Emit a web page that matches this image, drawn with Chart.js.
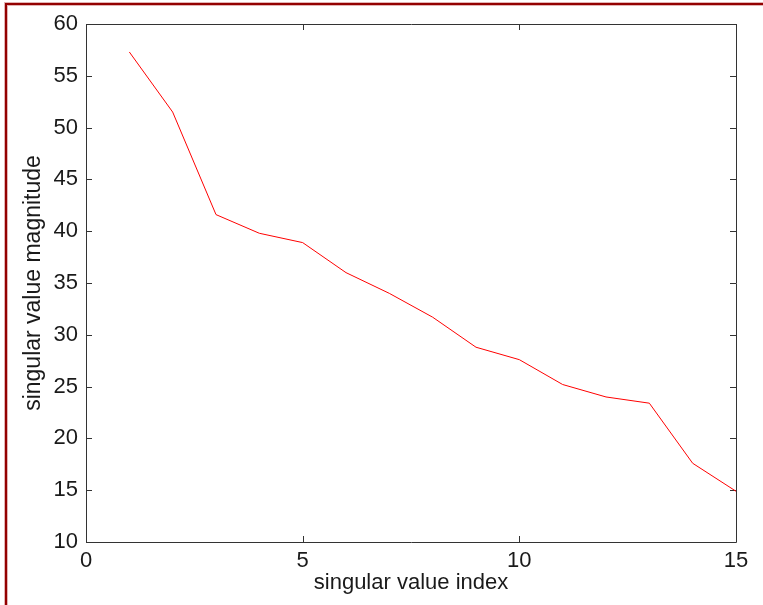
<!DOCTYPE html>
<html lang="en">
<head>
    <meta charset="UTF-8">
    <title>Singular values</title>
    <script src="https://cdn.jsdelivr.net/npm/chart.js"></script>
    <style>
        body {
            margin: 0;
            background: #fff;
        }
        #wrap {
            position: relative;
            width: 763px;
            height: 605px;
            overflow: hidden;
        }
        #frame {
            position: absolute;
            left: 5px;
            top: 3px;
            width: 800px;
            height: 700px;
            border-top: 2px solid #930000;
            border-left: 2px solid #930000;
            box-shadow: inset 1px 1px 0 #e2b4b4, -1px -1px 0 #e2b4b4;
            pointer-events: none;
        }
    </style>
</head>
<body>
    <div id="wrap">
        <canvas id="svChart" width="763" height="605"></canvas>
        <div id="frame"></div>
    </div>

    <script>
        // singular value index and magnitude
        const indices = [1, 2, 3, 4, 5, 6, 7, 8, 9, 10, 11, 12, 13, 14, 15];
        const magnitudes = [57.3, 51.5, 41.6, 39.8, 38.9, 36.0, 34.0, 31.7, 28.8, 27.6, 25.2, 24.0, 23.4, 17.6, 14.9];

        const xRange = [0, 15];
        const yRange = [10, 60];
        const xStep = 5;
        const yStep = 5;

        const fontFamily = '"Liberation Sans", Arial, sans-serif';
        const textColor = '#1a1a1a';

        // matlab style box with inward ticks on all four sides
        const boxPlugin = {
            id: 'matlabBox',
            beforeDatasetsDraw(chart) {
                const {ctx, chartArea: a, scales: {x, y}} = chart;
                const tl = 6;
                ctx.save();
                ctx.strokeStyle = '#333';
                ctx.lineWidth = 1;
                ctx.beginPath();
                ctx.rect(a.left + 0.5, a.top + 0.5, a.right - a.left, a.bottom - a.top);
                x.ticks.forEach(t => {
                    const px = Math.round(x.getPixelForValue(t.value)) + 0.5;
                    ctx.moveTo(px, a.bottom);
                    ctx.lineTo(px, a.bottom - tl);
                    ctx.moveTo(px, a.top);
                    ctx.lineTo(px, a.top + tl);
                });
                y.ticks.forEach(t => {
                    const py = Math.round(y.getPixelForValue(t.value)) + 0.5;
                    ctx.moveTo(a.left, py);
                    ctx.lineTo(a.left + tl, py);
                    ctx.moveTo(a.right, py);
                    ctx.lineTo(a.right - tl, py);
                });
                ctx.stroke();
                ctx.restore();
            }
        };

        const ctx = document.getElementById('svChart').getContext('2d');

        const chart = new Chart(ctx, {
            type: 'line',
            data: {
                datasets: [{
                    label: 'singular values',
                    data: indices.map((v, i) => ({x: v, y: magnitudes[i]})),
                    borderColor: '#ff0000',
                    borderWidth: 1,
                    pointRadius: 0,
                    tension: 0,
                    fill: false
                }]
            },
            options: {
                responsive: false,
                animation: false,
                devicePixelRatio: 1,
                layout: {
                    padding: {top: 24, right: 27, left: 0, bottom: 0}
                },
                scales: {
                    x: {
                        type: 'linear',
                        min: xRange[0],
                        max: xRange[1],
                        afterFit: scale => { scale.height = 63; },
                        grid: {display: false, drawTicks: false},
                        border: {display: false},
                        ticks: {
                            stepSize: xStep,
                            padding: 6,
                            color: textColor,
                            font: {family: fontFamily, size: 22}
                        },
                        title: {
                            display: true,
                            text: 'singular value index',
                            color: textColor,
                            padding: {top: 0, bottom: 9},
                            font: {family: fontFamily, size: 22}
                        }
                    },
                    y: {
                        min: yRange[0],
                        max: yRange[1],
                        afterFit: scale => { scale.width = 86; },
                        grid: {display: false, drawTicks: false},
                        border: {display: false},
                        ticks: {
                            stepSize: yStep,
                            padding: 8,
                            color: textColor,
                            font: {family: fontFamily, size: 22}
                        },
                        title: {
                            display: true,
                            text: 'singular value magnitude',
                            color: textColor,
                            padding: {top: 20, bottom: 0},
                            font: {family: fontFamily, size: 23}
                        }
                    }
                },
                plugins: {
                    legend: {display: false},
                    tooltip: {enabled: false}
                }
            },
            plugins: [boxPlugin]
        });
    </script>
</body>
</html>
